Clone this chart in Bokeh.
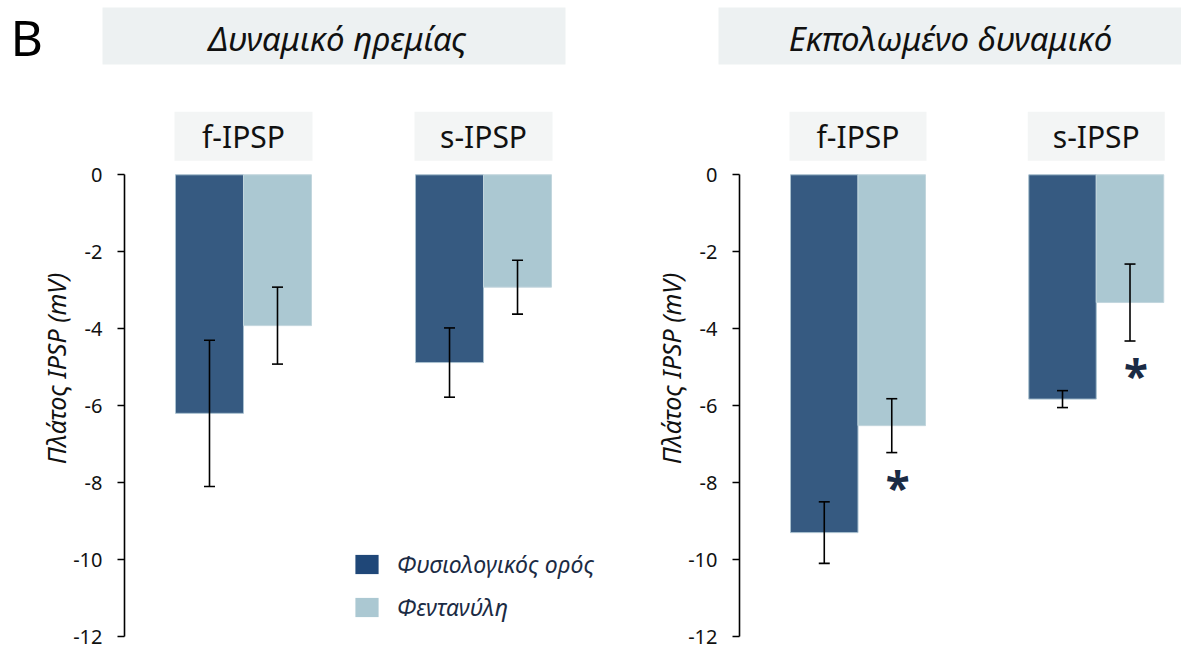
from bokeh.plotting import figure
from bokeh.models import (Range1d, FixedTicker, ColumnDataSource, Whisker, TeeHead,
                          Legend, LegendItem)
from bokeh.layouts import column, row
from bokeh.embed import file_html
from bokeh.resources import INLINE
from bokeh.core.properties import value

# ---------------- data ----------------
panel_letter = "B"
panel_titles = ["Δυναμικό ηρεμίας", "Εκπολωμένο δυναμικό"]
groups = ["f-IPSP", "s-IPSP"]
series = ["Φυσιολογικός ορός", "Φεντανύλη"]
y_label = "Πλάτος IPSP (mV)"
y_ticks = [0, -2, -4, -6, -8, -10, -12]

# resting potential
rest_saline = [-6.2, -4.88]
rest_saline_err = [1.9, 0.9]
rest_fent = [-3.92, -2.92]
rest_fent_err = [1.0, 0.7]
rest_sig = [False, False]

# depolarised potential
dep_saline = [-9.3, -5.83]
dep_saline_err = [0.8, 0.22]
dep_fent = [-6.52, -3.32]
dep_fent_err = [0.7, 1.0]
dep_sig = [True, True]

# ---------------- style ----------------
FONT = value("Noto Sans")
C_SALINE = "#365a81"
C_FENT = "#abc8d2"
C_LEG_SALINE = "#1f4778"
C_TEXT = "#1b2b44"
HDR_FILL = "#edf1f2"
GRP_FILL = "#f3f5f5"
GROUP_STEP = 3.53
Y_TOP = 1.931
NAN = float("nan")


def header():
    p = figure(width=1181, height=100, x_range=Range1d(0, 1181), y_range=Range1d(100, 0),
               output_backend="svg", toolbar_location=None, min_border=0,
               x_axis_location=None, y_axis_location=None)
    p.grid.visible = False
    p.outline_line_color = None
    p.quad(left=[102, 718], right=[565, 1181], top=[7, 7], bottom=[64, 64],
           fill_color=HDR_FILL, line_color=None)
    p.text(x=[337, 950], y=[38, 38], text=panel_titles, text_align="center",
           text_baseline="middle", text_font=FONT, text_font_style="italic",
           text_font_size="33px", text_color="#111111")
    p.text(x=[10], y=[36], text=[panel_letter], text_align="left",
           text_baseline="middle", text_font=FONT, text_font_size="50px",
           text_color="#000000")
    return p


def panel(saline, saline_err, fent, fent_err, sig, width, bl, br, xr, legend):
    p = figure(width=width, height=548, x_range=Range1d(*xr), y_range=Range1d(-12, Y_TOP),
               output_backend="svg", toolbar_location=None,
               min_border_left=bl, min_border_right=br, min_border_top=0,
               min_border_bottom=12, x_axis_location=None)
    p.grid.visible = False
    p.outline_line_color = None
    p.background_fill_color = None
    p.border_fill_color = None

    gx = [i * GROUP_STEP for i in range(len(groups))]
    xs = [g - 0.5 for g in gx]
    xf = [g + 0.5 for g in gx]

    # group label boxes
    p.rect(x=gx, y=1.0, width=2.03, height=1.274, fill_color=GRP_FILL, line_color=None)
    p.text(x=gx, y=[1.0] * len(gx), text=groups, text_align="center", text_baseline="middle",
           text_font=FONT, text_font_size="30px", text_color="#111111")

    src_s = ColumnDataSource(dict(x=xs, top=saline, up=[v + e for v, e in zip(saline, saline_err)],
                                  lo=[v - e for v, e in zip(saline, saline_err)]))
    src_f = ColumnDataSource(dict(x=xf, top=fent, up=[v + e for v, e in zip(fent, fent_err)],
                                  lo=[v - e for v, e in zip(fent, fent_err)]))
    p.vbar(x="x", top="top", bottom=0, width=1.0, source=src_s, fill_color=C_SALINE,
           line_color="#a9c1cf", line_width=1)
    p.vbar(x="x", top="top", bottom=0, width=1.0, source=src_f, fill_color=C_FENT,
           line_color="#c2d6dd", line_width=1)

    for src in (src_s, src_f):
        w = Whisker(source=src, base="x", upper="up", lower="lo", dimension="height",
                    line_color="black", line_width=1.6, level="overlay",
                    upper_head=TeeHead(size=11, line_width=1.6, line_color="black"),
                    lower_head=TeeHead(size=11, line_width=1.6, line_color="black"))
        p.add_layout(w)

    # significance markers
    ax = [x for x, s in zip(xf, sig) if s]
    ay = [v - e for v, e, s in zip(fent, fent_err, sig) if s]
    if ax:
        p.text(x=ax, y=ay, text=["*"] * len(ax), text_align="center", text_baseline="middle",
               x_offset=6, y_offset=34, text_font=FONT, text_font_style="bold",
               text_font_size="44px", text_color=C_TEXT)

    # y axis
    ya = p.yaxis[0]
    ya.ticker = FixedTicker(ticks=y_ticks)
    ya.major_label_overrides = {t: str(t) for t in y_ticks}
    ya.bounds = (-12, 0)
    ya.minor_tick_line_color = None
    ya.major_tick_in = 0
    ya.major_tick_out = 7
    ya.axis_line_width = 1.6
    ya.major_tick_line_width = 1.6
    ya.axis_line_color = "black"
    ya.major_tick_line_color = "black"
    ya.major_label_text_font = "Noto Sans"
    ya.major_label_text_font_size = "20px"
    ya.major_label_text_color = "#111111"
    ya.major_label_standoff = 15
    ya.axis_label = y_label
    ya.axis_label_text_font = "Noto Sans"
    ya.axis_label_text_font_style = "italic"
    ya.axis_label_text_font_size = "25px"
    ya.axis_label_text_color = "#111111"
    ya.axis_label_standoff = -3

    if legend:
        dummy = dict(x=[NAN], top=[NAN])
        d0 = p.vbar(x="x", top="top", bottom=0, width=1, source=ColumnDataSource(dummy),
                    fill_color=C_LEG_SALINE, line_color=None)
        d1 = p.vbar(x="x", top="top", bottom=0, width=1, source=ColumnDataSource(dict(dummy)),
                    fill_color=C_FENT, line_color=None)
        lg = Legend(items=[LegendItem(label=series[0], renderers=[d0]),
                           LegendItem(label=series[1], renderers=[d1])],
                    location=(228, 13), glyph_width=29, glyph_height=24, label_height=24,
                    spacing=11, label_standoff=16, padding=0, margin=0,
                    label_text_font="Noto Sans", label_text_font_style="italic",
                    label_text_font_size="23px", label_text_color=C_TEXT,
                    background_fill_alpha=0, border_line_alpha=0)
        p.add_layout(lg)
    return p


left = panel(rest_saline, rest_saline_err, rest_fent, rest_fent_err, rest_sig,
             608, 124, 7, (-1.75, 5.265), True)
right = panel(dep_saline, dep_saline_err, dep_fent, dep_fent_err, dep_sig,
              573, 131, 0, (-1.756, 4.793), False)

layout = column(header(), row(left, right, spacing=0), spacing=0)
open("out.html", "w").write(file_html(layout, INLINE))
